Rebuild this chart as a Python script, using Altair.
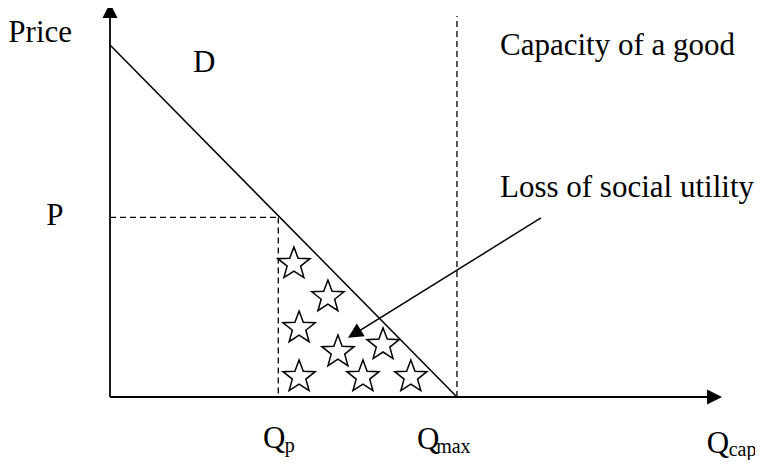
import math
import altair as alt
import pandas as pd

# ---- data (economic units: quantity Q on x, price P on y) ----
demand_q = [0.0, 10.0]
demand_p = [10.0, 0.0]
q_p = 4.85          # quantity at price P
p_level = 5.1       # price P
q_max = 10.0        # capacity
cap_top = 10.82     # top of capacity line
y_axis_top = 11.19
x_axis_end = 17.64

star_q = [5.30, 6.28, 5.45, 6.57, 7.87, 5.45, 7.29, 8.67]
star_p = [3.78, 2.84, 1.96, 1.28, 1.48, 0.57, 0.57, 0.57]

arrow_start = (12.42, 5.085)
arrow_tip = (6.86, 1.68)

label_text = ["Price", "D", "P", "Capacity of a good", "Loss of social utility", "Q", "Q", "Q"]
label_q = [-2.93, 2.39, -1.84, 11.24, 11.24, 4.41, 8.85, 17.20]
label_p = [10.085, 9.23, 4.886, 9.716, 5.68, -1.44, -1.47, -1.59]
sub_text = ["p", "max", "cap"]
sub_q = [5.04, 9.40, 17.83]
sub_p = [-1.55, -1.59, -1.68]

# ---- scales (page is 763x468 with an 8px margin) ----
W, H = 747, 452
XD = [-2.94, 18.59]
YD = [-1.79, 11.05]
sx = W / (XD[1] - XD[0])
sy = H / (YD[1] - YD[0])
xs = alt.Scale(domain=XD, nice=False, zero=False)
ys = alt.Scale(domain=YD, nice=False, zero=False)

FONT = "Liberation Serif"

solid = pd.DataFrame({
    "x": [0.0, 0.0],
    "y": [0.0, 0.0],
    "x2": [0.0, x_axis_end - 0.3],
    "y2": [y_axis_top - 0.3, 0.0],
})
dashed = pd.DataFrame({
    "x": [0.0, q_p, q_max],
    "y": [p_level, p_level, 0.0],
    "x2": [q_p, q_p, q_max],
    "y2": [p_level, 0.0, cap_top],
})
demand = pd.DataFrame({"q": demand_q, "p": demand_p})
stars = pd.DataFrame({"q": star_q, "p": star_p})

dxp = (arrow_tip[0] - arrow_start[0]) * sx
dyp = -(arrow_tip[1] - arrow_start[1]) * sy
ang = math.degrees(math.atan2(dyp, dxp)) % 360
frac = 1 - 8 / math.hypot(dxp, dyp)
arrow_line = pd.DataFrame({
    "x": [arrow_start[0]],
    "y": [arrow_start[1]],
    "x2": [arrow_start[0] + (arrow_tip[0] - arrow_start[0]) * frac],
    "y2": [arrow_start[1] + (arrow_tip[1] - arrow_start[1]) * frac],
})

heads = pd.DataFrame({
    "q": [0.0, x_axis_end, arrow_tip[0]],
    "p": [y_axis_top, 0.0, arrow_tip[1]],
    "ang": [270.0, 0.0, ang],
    "sz": [900, 900, 900],
})

labels = pd.DataFrame({"t": label_text, "q": label_q, "p": label_p})
subs = pd.DataFrame({"t": sub_text, "q": sub_q, "p": sub_p})

HEAD = "M0,0L-1,-0.5L-1,0.5Z"
STAR = ("M0,-1L0.247,-0.340L0.951,-0.309L0.399,0.130L0.588,0.809"
        "L0,0.42L-0.588,0.809L-0.399,0.130L-0.951,-0.309L-0.247,-0.340Z")


def X(f):
    return alt.X(f, type="quantitative", scale=xs, axis=None)


def Y(f):
    return alt.Y(f, type="quantitative", scale=ys, axis=None)


axes_layer = alt.Chart(solid).mark_rule(color="black", strokeWidth=1.8).encode(
    x=X("x"), y=Y("y"), x2="x2", y2="y2")
dash_layer = alt.Chart(dashed).mark_rule(color="black", strokeWidth=1.3, strokeDash=[6, 4]).encode(
    x=X("x"), y=Y("y"), x2="x2", y2="y2")
demand_layer = alt.Chart(demand).mark_line(color="black", strokeWidth=1.5).encode(
    x=X("q"), y=Y("p"))
arrow_layer = alt.Chart(arrow_line).mark_rule(color="black", strokeWidth=1.5).encode(
    x=X("x"), y=Y("y"), x2="x2", y2="y2")
head_layer = alt.Chart(heads).mark_point(shape=HEAD, filled=True, color="black", opacity=1,
                                          strokeWidth=0).encode(
    x=X("q"), y=Y("p"), angle=alt.Angle("ang:Q", scale=None), size=alt.Size("sz:Q", scale=None))
star_layer = alt.Chart(stars).mark_point(shape=STAR, filled=False, color="black", opacity=1,
                                          size=1150, strokeWidth=1.5).encode(
    x=X("q"), y=Y("p"))
label_layer = alt.Chart(labels).mark_text(font=FONT, fontSize=31, align="left",
                                          baseline="alphabetic", color="black").encode(
    x=X("q"), y=Y("p"), text="t:N")
sub_layer = alt.Chart(subs).mark_text(font=FONT, fontSize=20, align="left",
                                      baseline="alphabetic", color="black").encode(
    x=X("q"), y=Y("p"), text="t:N")

chart = alt.layer(
    dash_layer, demand_layer, axes_layer, arrow_layer, star_layer, head_layer, label_layer, sub_layer
).properties(
    width=W, height=H, padding=0, background="white",
    autosize=alt.AutoSizeParams(type="none"),
).configure_view(strokeWidth=0)

chart.save("out.html", embed_options={"renderer": "svg", "actions": False})
